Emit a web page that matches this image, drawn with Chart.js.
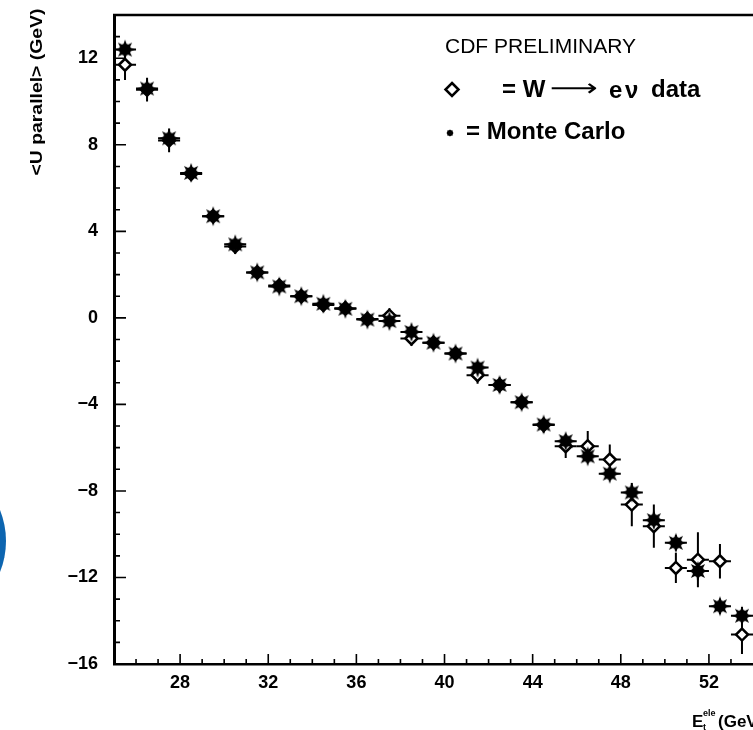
<!DOCTYPE html>
<html>
<head>
<meta charset="utf-8">
<script src="https://cdn.jsdelivr.net/npm/chart.js@4.4.1/dist/chart.umd.min.js"></script>
<style>
  html, body { margin: 0; padding: 0; background: #fff; overflow: hidden; }
  #wrap { position: relative; width: 753px; height: 730px; overflow: hidden; }
  #c { position: absolute; left: 0; top: 0; }
  #spot { position: absolute; left: -160px; top: 458px; width: 166px; height: 166px;
          border-radius: 50%; background: #0d65b0; }
</style>
</head>
<body>
<div id="wrap">
  <canvas id="c" width="753" height="730"></canvas>
  <div id="spot"></div>
</div>
<script>
// Electron transverse energy bins (GeV), 1 GeV wide
const binCenters = [25.5, 26.5, 27.5, 28.5, 29.5, 30.5, 31.5, 32.5, 33.5, 34.5,
                    35.5, 36.5, 37.5, 38.5, 39.5, 40.5, 41.5, 42.5, 43.5, 44.5,
                    45.5, 46.5, 47.5, 48.5, 49.5, 50.5, 51.5, 52.5, 53.5];
const binHalfWidth = 0.5;

// <U parallel> for W -> e nu data (GeV) and its uncertainty
const dataValues = [11.7, 10.55, 8.2, 6.65, 4.7, 3.3, 2.1, 1.5, 1.0, 0.6,
                    0.45, -0.05, 0.1, -0.95, -1.15, -1.65, -2.65, -3.1, -3.9, -4.95,
                    -5.93, -5.93, -6.55, -8.63, -9.63, -11.56, -11.18, -11.25, -14.64];
const dataErrors = [0.7, 0.55, 0.55, 0.3, 0.3, 0.35, 0.3, 0.3, 0.3, 0.3,
                    0.3, 0.3, 0.35, 0.35, 0.3, 0.3, 0.4, 0.35, 0.3, 0.35,
                    0.55, 0.7, 0.7, 1.0, 1.0, 0.7, 1.27, 0.8, 0.9];

// <U parallel> from Monte Carlo (GeV) and its uncertainty
const mcValues = [12.4, 10.6, 8.3, 6.7, 4.7, 3.4, 2.1, 1.45, 1.0, 0.65,
                  0.42, -0.08, -0.15, -0.65, -1.15, -1.65, -2.3, -3.1, -3.9, -4.93,
                  -5.7, -6.4, -7.2, -8.07, -9.35, -10.4, -11.7, -13.33, -13.77];
const mcErrors = [0.25, 0.25, 0.25, 0.25, 0.25, 0.25, 0.25, 0.25, 0.25, 0.25,
                  0.25, 0.25, 0.25, 0.25, 0.25, 0.25, 0.25, 0.25, 0.25, 0.3,
                  0.3, 0.3, 0.3, 0.35, 0.35, 0.35, 0.4, 0.35, 0.4];

// Labelled axis ticks
const xTickLabels = [28, 32, 36, 40, 44, 48, 52];
const yTickLabels = [-16, -12, -8, -4, 0, 4, 8, 12];

const X_MIN = 25, X_MAX = 54, Y_MIN = -16, Y_MAX = 14;

// Filled many-pointed star used for the Monte Carlo markers
function makeStar(outer, inner, points) {
  const size = Math.ceil(2 * outer + 2);
  const c = document.createElement('canvas');
  c.width = c.height = size;
  const g = c.getContext('2d');
  g.translate(size / 2, size / 2);
  g.fillStyle = '#000';
  g.beginPath();
  for (let k = 0; k < 2 * points; k++) {
    const a = k * Math.PI / points - Math.PI / 2;
    const r = (k % 2) ? inner : outer;
    g.lineTo(r * Math.cos(a), r * Math.sin(a));
  }
  g.closePath();
  g.fill();
  g.beginPath();
  g.arc(0, 0, inner + 1, 0, Math.PI * 2);
  g.fill();
  return c;
}
const starMarker = makeStar(10, 5, 8);

function fmt(v) { return v < 0 ? '\u2212' + Math.abs(v) : String(v); }

// Keep the plot area edges fixed regardless of tick label overhang
function noScalePadding(s) {
  s.paddingTop = 0; s.paddingBottom = 0; s.paddingLeft = 0; s.paddingRight = 0;
}

// Error bars: horizontal = bin width, vertical = uncertainty
const errorBars = {
  id: 'errorBars',
  beforeDatasetsDraw(chart) {
    const { ctx, scales: { x, y } } = chart;
    ctx.save();
    ctx.strokeStyle = '#000';
    ctx.lineWidth = 2;
    chart.data.datasets.forEach(ds => {
      ds.data.forEach((p, i) => {
        const px = x.getPixelForValue(p.x);
        const py = y.getPixelForValue(p.y);
        const xl = x.getPixelForValue(p.x - binHalfWidth);
        const xr = x.getPixelForValue(p.x + binHalfWidth);
        const yt = y.getPixelForValue(p.y + ds.errs[i]);
        const yb = y.getPixelForValue(p.y - ds.errs[i]);
        ctx.beginPath();
        ctx.moveTo(xl, py); ctx.lineTo(xr, py);
        ctx.moveTo(px, yt); ctx.lineTo(px, yb);
        ctx.stroke();
      });
    });
    ctx.restore();
  }
};

// Top frame line and inward-pointing major/minor ticks
const frameTicks = {
  id: 'frameTicks',
  afterDraw(chart) {
    const { ctx, chartArea: a, scales: { x, y } } = chart;
    ctx.save();
    ctx.strokeStyle = '#000';
    ctx.lineWidth = 2.5;
    ctx.beginPath();
    ctx.moveTo(a.left - 1, a.top);
    ctx.lineTo(a.right + 2, a.top);
    ctx.stroke();
    ctx.lineWidth = 1.6;
    ctx.beginPath();
    for (let v = X_MIN + 1; v < X_MAX; v++) {
      const px = x.getPixelForValue(v);
      const len = (v % 4 === 0) ? 10 : 5;
      ctx.moveTo(px, a.bottom); ctx.lineTo(px, a.bottom - len);
    }
    for (let v = Y_MIN + 1; v < Y_MAX; v++) {
      const py = y.getPixelForValue(v);
      const len = (v % 4 === 0) ? 12 : 6;
      ctx.moveTo(a.left, py); ctx.lineTo(a.left + len, py);
    }
    ctx.stroke();
    ctx.restore();
  }
};

// Axis titles and the key in the upper right
const texts = {
  id: 'texts',
  afterDraw(chart) {
    const ctx = chart.ctx;
    ctx.save();
    ctx.fillStyle = '#000';
    ctx.strokeStyle = '#000';

    // y title, rotated
    ctx.save();
    ctx.translate(38, 92);
    ctx.rotate(-Math.PI / 2);
    ctx.font = 'bold 16px "Liberation Sans", Arial, sans-serif';
    const yt = '<U parallel> (GeV)';
    const w = ctx.measureText(yt).width;
    ctx.scale(167 / w, 1);
    ctx.textAlign = 'center';
    ctx.textBaseline = 'middle';
    ctx.fillText(yt, 0, 0);
    ctx.restore();

    // x title
    ctx.textBaseline = 'alphabetic';
    ctx.textAlign = 'left';
    ctx.font = 'bold 17px "Liberation Sans", Arial, sans-serif';
    ctx.fillText('E', 692, 727);
    ctx.font = 'bold 9px "Liberation Sans", Arial, sans-serif';
    ctx.fillText('t', 703, 730);
    ctx.fillText('ele', 703, 716);
    ctx.font = 'bold 17px "Liberation Sans", Arial, sans-serif';
    ctx.fillText('(GeV)', 718, 727);

    // key
    ctx.textBaseline = 'middle';
    ctx.font = '21px "Liberation Sans", Arial, sans-serif';
    ctx.fillText('CDF PRELIMINARY', 445, 47);

    ctx.lineWidth = 2.5;
    ctx.beginPath();
    ctx.moveTo(452, 83); ctx.lineTo(458.5, 89.5); ctx.lineTo(452, 96); ctx.lineTo(445.5, 89.5);
    ctx.closePath();
    ctx.stroke();

    ctx.font = 'bold 24px "Liberation Sans", Arial, sans-serif';
    ctx.fillText('= W', 502, 90);
    ctx.save();
    ctx.font = '24px "DejaVu Sans", sans-serif';
    const aw = ctx.measureText('\u27F6').width;
    ctx.translate(550, 90);
    ctx.scale(48 / aw, 1);
    ctx.fillText('\u27F6', 0, 0);
    ctx.restore();
    ctx.font = 'bold 24px "Liberation Sans", Arial, sans-serif';
    ctx.fillText('e', 609, 91);
    ctx.fillText('\u03BD', 625, 91);
    ctx.fillText('data', 651, 90);

    ctx.drawImage(makeStar(4, 2, 8), 445, 128);
    ctx.fillText('= Monte Carlo', 466, 132);
    ctx.restore();
  }
};

const tickFont = { family: '"Liberation Sans", Arial, sans-serif', weight: 'bold', size: 18 };

new Chart(document.getElementById('c'), {
  type: 'scatter',
  data: {
    datasets: [
      {
        label: 'Monte Carlo',
        data: binCenters.map((x, i) => ({ x, y: mcValues[i] })),
        errs: mcErrors,
        pointStyle: starMarker,
        pointRadius: 10,
        order: 0
      },
      {
        label: 'W \u2192 e \u03BD data',
        data: binCenters.map((x, i) => ({ x, y: dataValues[i] })),
        errs: dataErrors,
        pointStyle: 'rectRot',
        pointRadius: 6,
        pointBorderWidth: 2.5,
        pointBackgroundColor: '#fff',
        pointBorderColor: '#000',
        order: 1
      }
    ]
  },
  options: {
    responsive: false,
    animation: false,
    events: [],
    layout: { autoPadding: false, padding: { left: 0, top: 15, right: 0, bottom: 0 } },
    plugins: { legend: { display: false }, tooltip: { enabled: false } },
    scales: {
      x: {
        type: 'linear', min: X_MIN, max: X_MAX,
        afterBuildTicks: s => { s.ticks = xTickLabels.map(v => ({ value: v })); },
        afterFit: s => { s.height = 66; noScalePadding(s); },
        grid: { display: false, drawTicks: false },
        border: { display: true, color: '#000', width: 2.5 },
        ticks: { font: tickFont, color: '#000', padding: 8, maxRotation: 0, autoSkip: false,
                 callback: v => fmt(v) }
      },
      y: {
        type: 'linear', min: Y_MIN, max: Y_MAX,
        afterBuildTicks: s => { s.ticks = yTickLabels.map(v => ({ value: v })); },
        afterFit: s => { s.width = 114; noScalePadding(s); },
        grid: { display: false, drawTicks: false },
        border: { display: true, color: '#000', width: 3 },
        ticks: { font: tickFont, color: '#000', padding: 16, autoSkip: false,
                 callback: v => fmt(v) }
      }
    }
  },
  plugins: [errorBars, frameTicks, texts]
});
</script>
</body>
</html>
